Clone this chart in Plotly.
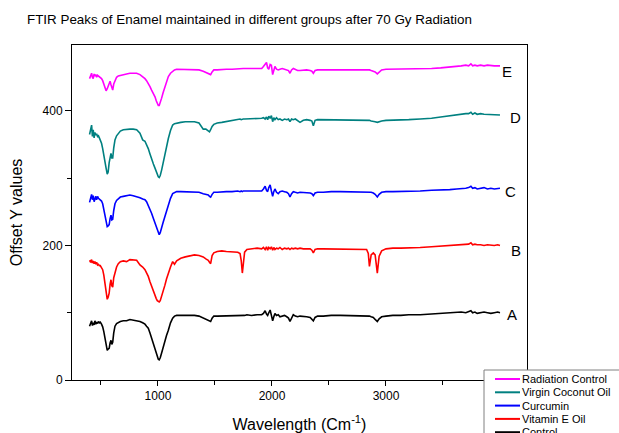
import plotly.graph_objects as go

# Wavenumber grid (cm^-1)
wavenumber = [
    400, 410, 418, 425, 432, 440, 447, 455, 462, 470,
    478, 486, 494, 505, 515, 525, 535, 545, 555, 563,
    572, 580, 588, 595, 603, 612, 623, 637, 652, 670,
    696, 725, 754, 783, 813, 842, 866, 886, 900, 915,
    930, 944, 960, 974, 985, 994, 1003, 1011, 1020, 1032,
    1045, 1061, 1075, 1091, 1110, 1129, 1145, 1164, 1200, 1240,
    1280, 1320, 1360, 1397, 1420, 1441, 1452, 1462, 1475, 1490,
    1520, 1560, 1600, 1650, 1700, 1720, 1730, 1740, 1748, 1760,
    1780, 1820, 1870, 1910, 1925, 1940, 1952, 1962, 1972, 1984,
    1995, 2006, 2016, 2026, 2040, 2055, 2070, 2090, 2110, 2130,
    2145, 2158, 2172, 2187, 2205, 2225, 2246, 2275, 2304, 2335,
    2350, 2363, 2378, 2400, 2450, 2520, 2600, 2700, 2780, 2830,
    2845, 2855, 2870, 2889, 2905, 2924, 2940, 2962, 3000, 3060,
    3130, 3200, 3300, 3400, 3480, 3560, 3620, 3660, 3700, 3725,
    3745, 3760, 3780, 3800, 3830, 3860, 3890, 3920, 3950, 3980,
    4000,
]

control = [
    80, 85, 88, 81, 85, 82, 88, 83, 86, 84,
    87, 85, 86, 83, 79, 72, 62, 52, 44, 46,
    47, 55, 59, 53, 56, 70, 80, 84, 86, 87,
    88, 88, 90, 89, 88, 87, 85, 83, 80, 77,
    70, 62, 54, 47, 41, 35, 31, 30, 33, 40,
    49, 59, 66, 74, 85, 92, 95, 96, 96, 97,
    97, 96, 95, 92, 91, 89, 88, 87, 92, 95,
    95, 95, 96, 95, 96, 96, 95, 96, 96, 96,
    97, 96, 97, 97, 99, 103, 98, 96, 100, 104,
    96, 88, 94, 99, 96, 97, 94, 95, 96, 94,
    92, 87, 93, 97, 95, 94, 95, 95, 94, 93,
    91, 88, 93, 95, 95, 96, 96, 96, 95, 95,
    95, 95, 94, 93, 90, 87, 91, 94, 95, 96,
    96, 97, 97, 98, 99, 99, 100, 101, 100, 102,
    103, 100, 101, 99, 100, 101, 100, 99, 100, 101,
    100,
]

vitamin_e_oil = [
    178, 175, 179, 174, 177, 173, 176, 172, 175, 171,
    172, 170, 170, 167, 164, 156, 144, 131, 120, 123,
    129, 142, 149, 140, 138, 152, 161, 168, 173, 176,
    177, 176, 179, 179, 178, 171, 168, 164, 159, 154,
    146, 139, 132, 126, 121, 118, 116, 116, 118, 124,
    132, 141, 150, 159, 168, 176, 172, 177, 181, 183,
    185, 186, 185, 183, 180, 178, 175, 173, 185, 189,
    191, 192, 191, 191, 190, 188, 178, 159, 175, 190,
    194, 195, 196, 195, 197, 194, 198, 193, 197, 195,
    198, 193, 197, 194, 196, 195, 197, 194, 196, 195,
    196, 194, 196, 195, 196, 195, 196, 195, 195, 195,
    193, 189, 194, 195, 195, 195, 195, 195, 195, 194,
    188, 169, 186, 189, 186, 159, 184, 192, 195, 196,
    196, 196, 197, 198, 199, 200, 200, 201, 201, 202,
    204, 201, 202, 201, 201, 200, 201, 200, 200, 201,
    200,
]

curcumin = [
    264, 270, 276, 268, 274, 265, 270, 273, 268, 273,
    270, 269, 268, 266, 262, 254, 243, 234, 228, 229,
    231, 240, 245, 238, 239, 252, 262, 267, 270, 272,
    273, 274, 275, 274, 273, 271, 269, 268, 265, 260,
    254, 248, 240, 233, 226, 221, 217, 216, 219, 225,
    234, 243, 251, 260, 270, 277, 279, 280, 280, 280,
    280, 280, 279, 277, 276, 275, 273, 272, 276, 279,
    279, 280, 280, 280, 281, 280, 281, 280, 281, 281,
    281, 281, 281, 281, 284, 288, 282, 280, 286, 290,
    281, 273, 280, 284, 279, 277, 280, 281, 280, 279,
    277, 272, 277, 280, 279, 278, 279, 279, 278, 278,
    277, 274, 278, 279, 279, 280, 280, 280, 280, 280,
    280, 279, 279, 278, 276, 272, 276, 279, 280, 280,
    280, 281, 281, 282, 282, 283, 284, 284, 285, 286,
    288, 285, 286, 284, 285, 286, 284, 285, 284, 285,
    285,
]

virgin_coconut_oil = [
    365, 375, 379, 362, 372, 360, 368, 364, 366, 362,
    363, 360, 357, 352, 344, 336, 325, 315, 306, 309,
    323, 333, 337, 330, 330, 345, 357, 363, 367, 370,
    372, 373, 373, 373, 372, 367, 357, 355, 350, 344,
    336, 327, 321, 315, 310, 305, 302, 301, 304, 312,
    323, 337, 348, 359, 371, 379, 381, 382, 383, 384,
    384, 384, 382, 373, 373, 370, 369, 372, 377, 380,
    382, 383, 384, 386, 387, 388, 387, 388, 388, 388,
    388, 388, 389, 389, 390, 388, 391, 387, 392, 389,
    393, 384, 390, 387, 390, 387, 388, 386, 388, 387,
    388, 384, 388, 387, 388, 385, 383, 386, 387, 386,
    385, 378, 386, 387, 387, 387, 387, 387, 387, 386,
    386, 386, 385, 385, 384, 383, 384, 385, 386, 386,
    386, 387, 388, 389, 391, 393, 395, 395, 396, 396,
    398, 395, 397, 395, 396, 395, 395, 395, 395, 395,
    394,
]

radiation_control = [
    448, 452, 456, 450, 448, 455, 452, 454, 450, 453,
    452, 451, 450, 448, 445, 440, 434, 430, 433, 437,
    442, 444, 439, 433, 431, 440, 446, 450, 452, 453,
    454, 455, 456, 456, 456, 454, 451, 448, 445, 441,
    436, 431, 426, 421, 415, 410, 408, 408, 412, 419,
    427, 436, 444, 451, 456, 459, 461, 462, 462, 462,
    462, 462, 461, 459, 457, 456, 455, 454, 458, 461,
    461, 462, 462, 462, 463, 463, 463, 463, 463, 463,
    463, 463, 463, 463, 466, 470, 472, 464, 462, 469,
    468, 454, 460, 466, 462, 461, 462, 463, 462, 461,
    460, 456, 461, 463, 461, 460, 460, 461, 461, 460,
    459, 456, 460, 461, 461, 462, 462, 462, 462, 461,
    461, 461, 460, 459, 458, 455, 458, 461, 462, 462,
    462, 462, 463, 463, 464, 465, 466, 467, 468, 467,
    470, 467, 468, 467, 468, 467, 468, 467, 467, 467,
    467,
]

series_names = ["Radiation Control", "Virgin Coconut Oil", "Curcumin", "Vitamin E Oil", "Control"]
series_values = [radiation_control, virgin_coconut_oil, curcumin, vitamin_e_oil, control]
series_colors = ["#FF00FF", "#008080", "#0000FF", "#FF0000", "#000000"]

curve_letters = ["E", "D", "C", "B", "A"]
letter_x = [4061, 4140, 4096, 4140, 4105]
letter_y = [459, 390, 280, 193, 97]

for s in series_values:
    assert len(s) == len(wavenumber)

FONT = "Liberation Sans, Arial, sans-serif"

# plot-area geometry in pixels (used to place the legend box in paper coords)
W, H = 619, 433
ML, MR, MT, MB = 72, 92, 45, 53
PW, PH = W - ML - MR, H - MT - MB


def px_to_paper_x(px):
    return (px - ML) / PW


def px_to_paper_y(py):
    return (H - MB - py) / PH


fig = go.Figure()
for name, vals, col in zip(series_names, series_values, series_colors):
    fig.add_trace(go.Scatter(x=wavenumber, y=vals, mode="lines", name=name,
                             line=dict(color=col, width=1.6), showlegend=False))

for lt, lx, ly in zip(curve_letters, letter_x, letter_y):
    fig.add_annotation(x=lx, y=ly, text=lt, showarrow=False, xref="x", yref="y",
                       font=dict(family=FONT, size=15, color="black"))

# Legend box (Origin style, partly cut by the page edge)
box_top = 370
fig.add_shape(type="rect", xref="paper", yref="paper", layer="above",
              x0=px_to_paper_x(484), x1=px_to_paper_x(640),
              y0=px_to_paper_y(box_top), y1=px_to_paper_y(460),
              line=dict(color="#808080", width=1), fillcolor="white")
for i, (name, col) in enumerate(zip(series_names, series_colors)):
    ey = 379 + i * 13.3
    fig.add_shape(type="line", xref="paper", yref="paper", layer="above",
                  x0=px_to_paper_x(495), x1=px_to_paper_x(520),
                  y0=px_to_paper_y(ey), y1=px_to_paper_y(ey),
                  line=dict(color=col, width=2))
    fig.add_annotation(xref="paper", yref="paper", x=px_to_paper_x(520), y=px_to_paper_y(ey),
                       text=name, showarrow=False, xanchor="left", yanchor="middle",
                       font=dict(family=FONT, size=11, color="black"))

fig.update_layout(
    width=W, height=H,
    margin=dict(l=ML, r=MR, t=MT, b=MB, autoexpand=False),
    paper_bgcolor="white", plot_bgcolor="white",
    font=dict(family=FONT, color="black", size=12),
    title=dict(text="FTIR Peaks of Enamel maintained in different groups after 70 Gy Radiation",
               x=27 / W, xanchor="left", xref="container",
               y=1 - 19 / H, yanchor="middle", yref="container",
               font=dict(family=FONT, size=13.4, color="black")),
    showlegend=False,
)

fig.update_xaxes(
    range=[246, 4237], showgrid=False, zeroline=False,
    showline=True, linecolor="black", linewidth=1, mirror=True,
    ticks="outside", ticklen=5, tickwidth=1, tickcolor="black",
    tickvals=[1000, 2000, 3000],
    minor=dict(tickvals=[500, 1500, 2500, 3500], ticks="outside", ticklen=4, tickcolor="black"),
    tickfont=dict(family=FONT, size=12),
    title=dict(text="Wavelength (Cm<sup>-1</sup>)", font=dict(family=FONT, size=16), standoff=16),
)
fig.update_yaxes(
    range=[0, 498], showgrid=False, zeroline=False,
    showline=True, linecolor="black", linewidth=1, mirror=True,
    ticks="outside", ticklen=6, tickwidth=1, tickcolor="black",
    tickvals=[0, 200, 400],
    minor=dict(tickvals=[100, 300], ticks="outside", ticklen=4, tickcolor="black"),
    tickfont=dict(family=FONT, size=12),
    title=dict(text="Offset Y values", font=dict(family=FONT, size=16), standoff=15),
)

fig.write_html("out.html",
               config={"displayModeBar": False},
               post_script="document.body.style.margin='0';document.body.style.overflow='hidden';")
